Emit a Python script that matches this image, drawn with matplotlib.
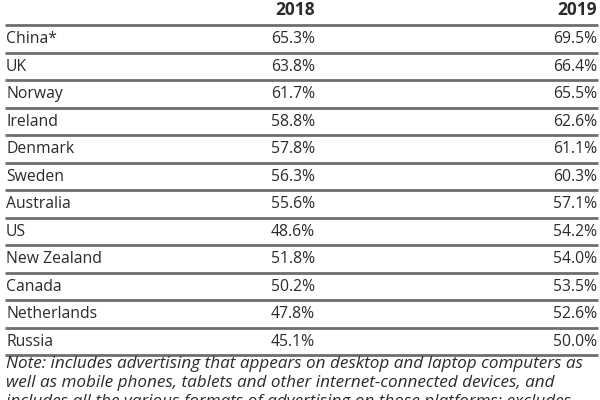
import matplotlib
matplotlib.use("Agg")
from matplotlib import pyplot as plt

countries = ["China*", "UK", "Norway", "Ireland", "Denmark", "Sweden",
             "Australia", "US", "New Zealand", "Canada", "Netherlands", "Russia"]
v2018 = [65.3, 63.8, 61.7, 58.8, 57.8, 56.3, 55.6, 48.6, 51.8, 50.2, 47.8, 45.1]
v2019 = [69.5, 66.4, 65.5, 62.6, 61.1, 60.3, 57.1, 54.2, 54.0, 53.5, 52.6, 50.0]
years = ["2018", "2019"]
note = ["Note: includes advertising that appears on desktop and laptop computers as",
        "well as mobile phones, tablets and other internet-connected devices, and",
        "includes all the various formats of advertising on those platforms; excludes"]

plt.rcParams["font.family"] = ["Open Sans", "DejaVu Sans"]
txt = "#2b2b2b"

fig = plt.figure(figsize=(6, 4), dpi=100)
ax = fig.add_axes([0, 0, 1, 1])
ax.set_xlim(0, 600)
ax.set_ylim(400, 0)
ax.axis("off")

top = 25
step = 27.5
col1 = 315
col2 = 597

# header
ax.text(col1, 10, years[0], ha="right", va="center", fontsize=12.5, fontweight="bold", color=txt)
ax.text(col2, 10, years[1], ha="right", va="center", fontsize=12.5, fontweight="bold", color=txt)

for i in range(len(countries) + 1):
    y = top + i * step
    ax.plot([5, 598], [y, y], color="#6e6e6e", lw=2, solid_capstyle="butt")

for i, (c, a, b) in enumerate(zip(countries, v2018, v2019)):
    y = top + (i + 0.5) * step + 0.5
    ax.text(6, y, c, ha="left", va="center", fontsize=11.3, color=txt)
    ax.text(col1, y, "{:.1f}%".format(a), ha="right", va="center", fontsize=11.3, color=txt)
    ax.text(col2, y, "{:.1f}%".format(b), ha="right", va="center", fontsize=11.3, color=txt)

# note, last line runs off the bottom as in the original clipping
for j, line in enumerate(note):
    ax.text(6, 364 + j * 19, line, ha="left", va="center", fontsize=12.3,
            style="italic", color=txt)

fig.savefig("out.png", dpi=100)
